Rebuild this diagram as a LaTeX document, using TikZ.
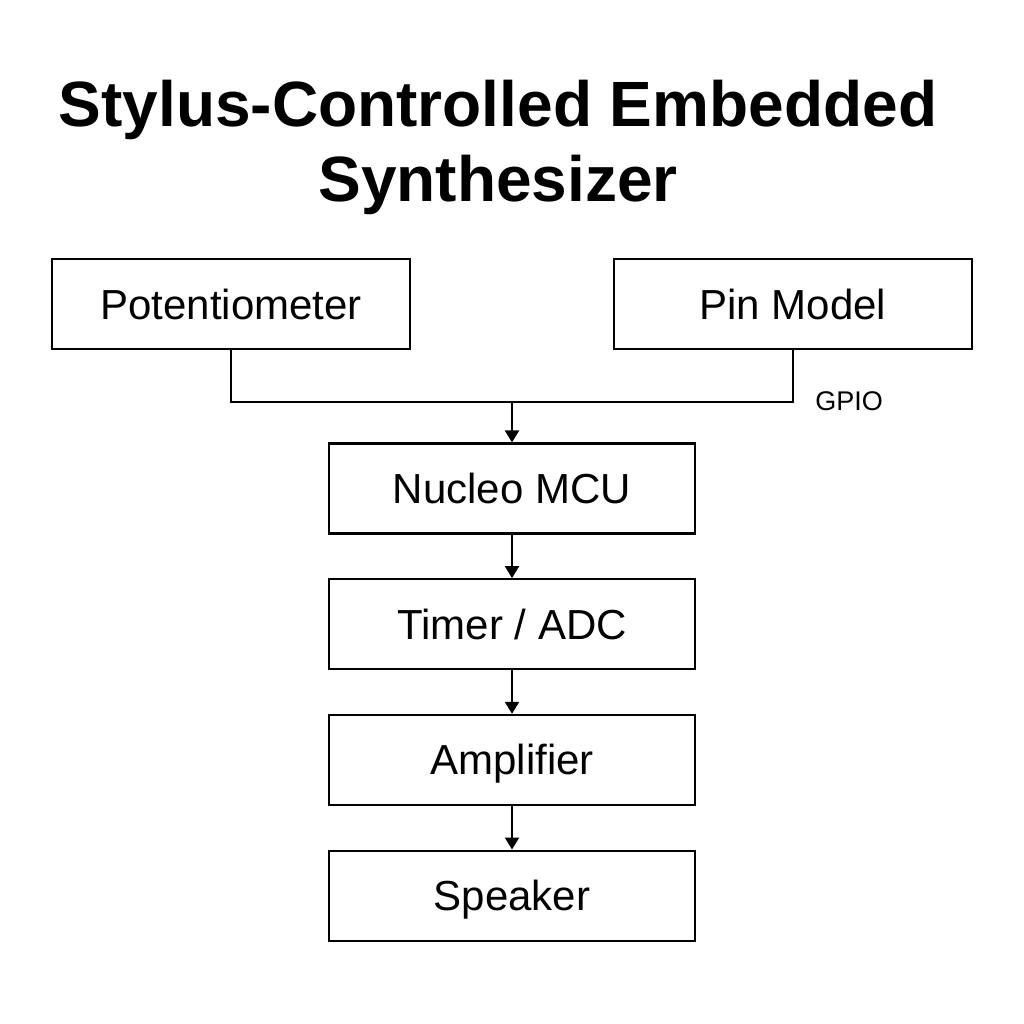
\documentclass[tikz,border=0pt]{standalone}
\usepackage{fontspec}
\setmainfont{Liberation Sans}
\usetikzlibrary{positioning,arrows.meta}
\tikzset{
  block/.style = {shape=rectangle, draw, line width=2.2pt,
                  minimum height=90pt, inner sep=0pt,
                  text height=30pt, text depth=0pt,
                  font=\fontsize{42}{50}\selectfont},
  src/.style   = {block, minimum width=358pt},
  stage/.style = {block, minimum width=366pt},
  title/.style = {anchor=base, font=\fontsize{64}{75}\selectfont\bfseries},
  lbl/.style   = {anchor=base west, font=\fontsize{27}{32}\selectfont}
}

\begin{document}
\begin{tikzpicture}[x=1pt,y=-1pt,>={Triangle[width=14pt,length=12pt]},
  node distance=43.5pt, line width=2.2pt]
\useasboundingbox (0,0) rectangle (1024,1024);
\node [title] (t1) at (498,127) {Stylus-Controlled Embedded};
\node [title] (t2) at (498,202) {Synthesizer};
\node [src] (pot) at (231,304) {Potentiometer};
\node [src] (pin) at (793,304) {Pin Model};
\node [stage] (mcu) at (512,488.5) {Nucleo MCU};
\node [stage, below=of mcu] (adc) {Timer / ADC};
\node [stage, below=of adc] (amp) {Amplifier};
\node [stage, below=of amp] (spk) {Speaker};
\coordinate (jn) at (512,402);
\draw (pot.south) |- (jn) -| (pin.south);
\node [lbl] (gpio) at (811,410) {GPIO};
\draw [->] (jn) -- (mcu.north);
\draw [->] (mcu) -- (adc);
\draw [->] (adc) -- (amp);
\draw [->] (amp) -- (spk);
\end{tikzpicture}
\end{document}
